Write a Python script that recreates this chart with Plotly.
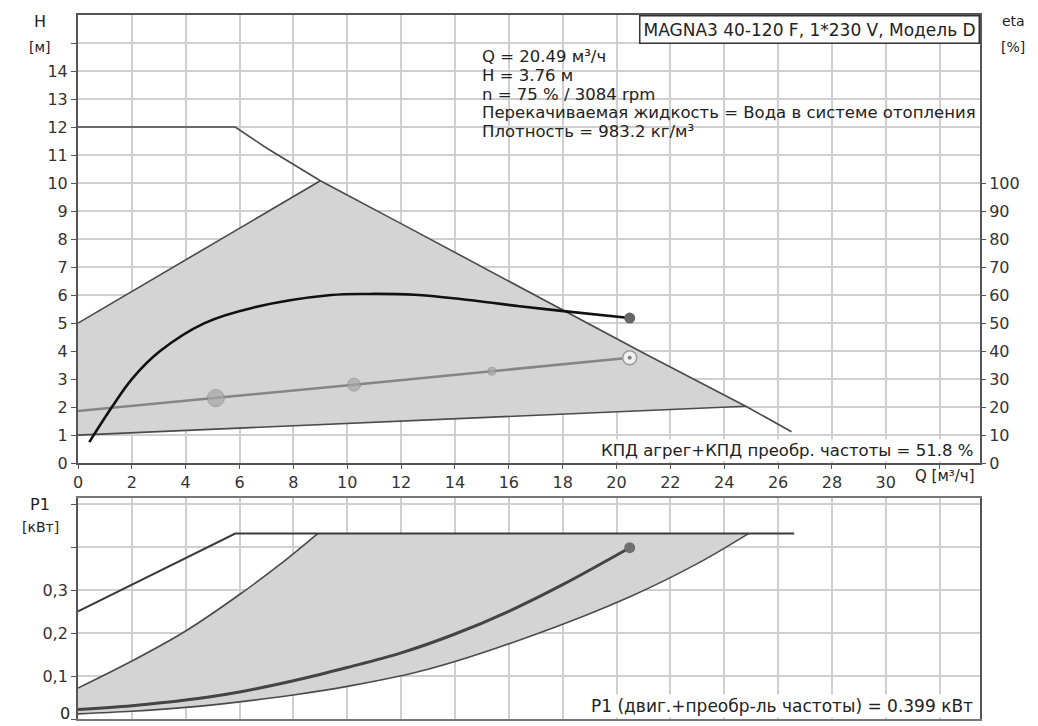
import plotly.graph_objects as go

# ---------------- data ----------------
# Top chart: H [m] vs Q [m3/h]
max_q = [0, 5.84, 7.0, 9.0, 12, 15, 18, 21, 24.8, 26.5]
max_h = [12.0, 12.0, 11.25, 10.08, 8.55, 7.0, 5.47, 3.93, 2.03, 1.12]

upper_edge_q = [0, 9.0]
upper_edge_h = [5.0, 10.08]
lower_edge_q = [0, 24.8]
lower_edge_h = [1.0, 2.03]

op_q = [0, 5.12, 10.25, 15.37, 20.49]
op_h = [1.86, 2.32, 2.80, 3.28, 3.76]
op_marker_sizes = [17, 13, 8]

eta_q = [0.42, 1.26, 2.0, 3.05, 4.7, 6.5, 9.4, 10.8, 12.5, 14.2, 16.4, 18.3, 20.49]
eta_v = [7.5, 20.0, 30.0, 40.0, 50.0, 55.5, 60.0, 60.4, 60.1, 58.6, 56.0, 54.0, 51.8]

# Bottom chart: P1 [kW] vs Q
pmax_q = [0, 5.84, 26.6]
pmax_v = [0.251, 0.432, 0.432]

pup_q = [0, 2, 4, 6, 7.5, 8.9]
pup_v = [0.072, 0.135, 0.205, 0.290, 0.360, 0.432]
plow_q = [0, 2, 4, 6, 8, 10, 13, 16.8, 20.5, 23, 24.9]
plow_v = [0.012, 0.018, 0.027, 0.040, 0.056, 0.076, 0.116, 0.193, 0.285, 0.362, 0.432]

p1_q = [0, 2, 4, 6, 8, 10, 12, 14, 16, 18, 20.49]
p1_v = [0.022, 0.031, 0.044, 0.063, 0.089, 0.120, 0.154, 0.198, 0.251, 0.313, 0.399]

x_ticks = list(range(0, 34, 2))
x_ticktext = [str(v) for v in range(0, 32, 2)] + [""]
h_ticks = list(range(0, 16))
h_ticktext = [str(v) for v in range(0, 15)] + [""]
eta_ticks = list(range(0, 110, 10))
p_ticks = [0, 0.1, 0.2, 0.3, 0.4, 0.5]
p_ticktext = ["", "0,1", "0,2", "0,3", "", ""]
p_zero_label = "0"

info_lines = [
    "Q = 20.49 м³/ч",
    "H = 3.76 м",
    "n = 75 % / 3084 rpm",
    "Перекачиваемая жидкость = Вода в системе отопления",
    "Плотность = 983.2 кг/м³",
]
title_box = "MAGNA3 40-120 F, 1*230 V, Модель D"
eta_text = "КПД агрег+КПД преобр. частоты = 51.8 %"
p1_text = "P1 (двиг.+преобр-ль частоты) = 0.399 кВт"

# ---------------- figure ----------------
# page body has an 8px margin, so the figure is offset by 8px on screen
OFF = 8
W, H = 1038, 726
SCR_L, SCR_R, SCR_T, SCR_B = 78, 980, 13, 720   # plot area on screen
ML, MT = SCR_L - OFF, SCR_T - OFF
MR = W - (SCR_R - OFF)
MB = H - (SCR_B - OFF)
PW, PH = SCR_R - SCR_L, SCR_B - SCR_T


def px(x):
    return (x - SCR_L) / PW


def py(y):
    return (SCR_B - y) / PH


FONT = "DejaVu Sans"
FILL = "#d4d4d4"
EDGE = "#4a4a4a"

fig = go.Figure()

# top region polygon
inner = [(q, h) for q, h in zip(max_q, max_h) if upper_edge_q[-1] < q < lower_edge_q[-1]]
reg_q = list(upper_edge_q) + [q for q, _ in inner] + [lower_edge_q[-1], lower_edge_q[0]]
reg_h = list(upper_edge_h) + [h for _, h in inner] + [lower_edge_h[-1], lower_edge_h[0]]
fig.add_trace(go.Scatter(x=reg_q, y=reg_h, fill="toself", fillcolor=FILL, mode="lines",
                         line=dict(width=0), hoverinfo="skip", xaxis="x", yaxis="y"))
fig.add_trace(go.Scatter(x=upper_edge_q, y=upper_edge_h, mode="lines",
                         line=dict(color=EDGE, width=1.6), xaxis="x", yaxis="y"))
fig.add_trace(go.Scatter(x=lower_edge_q, y=lower_edge_h, mode="lines",
                         line=dict(color=EDGE, width=1.6), xaxis="x", yaxis="y"))
fig.add_trace(go.Scatter(x=max_q, y=max_h, mode="lines",
                         line=dict(color=EDGE, width=1.6), xaxis="x", yaxis="y"))

# operating curve with markers
fig.add_trace(go.Scatter(x=op_q, y=op_h, mode="lines",
                         line=dict(color="#858585", width=2.6), xaxis="x", yaxis="y"))
fig.add_trace(go.Scatter(x=op_q[1:4], y=op_h[1:4], mode="markers",
                         marker=dict(size=op_marker_sizes, color="#a6a6a6",
                                     line=dict(color="#8c8c8c", width=1)),
                         xaxis="x", yaxis="y"))
fig.add_trace(go.Scatter(x=op_q[-1:], y=op_h[-1:], mode="markers",
                         marker=dict(size=14, color="#f0f0f0", line=dict(color="#9a9a9a", width=1.5)),
                         xaxis="x", yaxis="y"))
fig.add_trace(go.Scatter(x=op_q[-1:], y=op_h[-1:], mode="markers",
                         marker=dict(size=4, color="#808080"), xaxis="x", yaxis="y"))

# efficiency curve (right axis)
fig.add_trace(go.Scatter(x=eta_q, y=eta_v, mode="lines",
                         line=dict(color="#111111", width=2.6, shape="spline", smoothing=1.0),
                         xaxis="x", yaxis="y2"))
fig.add_trace(go.Scatter(x=eta_q[-1:], y=eta_v[-1:], mode="markers",
                         marker=dict(size=11, color="#666666"), xaxis="x", yaxis="y2"))

# bottom region polygon
preg_q = list(pup_q) + list(reversed(plow_q))
preg_v = list(pup_v) + list(reversed(plow_v))
fig.add_trace(go.Scatter(x=preg_q, y=preg_v, fill="toself", fillcolor=FILL, mode="lines",
                         line=dict(width=0), hoverinfo="skip", xaxis="x2", yaxis="y3"))
fig.add_trace(go.Scatter(x=pup_q, y=pup_v, mode="lines", line=dict(color=EDGE, width=1.6, shape="spline"),
                         xaxis="x2", yaxis="y3"))
fig.add_trace(go.Scatter(x=plow_q, y=plow_v, mode="lines", line=dict(color=EDGE, width=1.6, shape="spline"),
                         xaxis="x2", yaxis="y3"))
fig.add_trace(go.Scatter(x=pmax_q, y=pmax_v, mode="lines", line=dict(color="#3a3a3a", width=2),
                         xaxis="x2", yaxis="y3"))
fig.add_trace(go.Scatter(x=p1_q, y=p1_v, mode="lines", line=dict(color="#444444", width=3, shape="spline"),
                         xaxis="x2", yaxis="y3"))
fig.add_trace(go.Scatter(x=p1_q[-1:], y=p1_v[-1:], mode="markers",
                         marker=dict(size=11, color="#707070"), xaxis="x2", yaxis="y3"))

grid = dict(showgrid=True, gridcolor="#cfcfcf", gridwidth=1.5, zeroline=False)
tickfont = dict(family=FONT, size=16, color="#333333")

fig.update_layout(
    width=W, height=H, showlegend=False,
    paper_bgcolor="white", plot_bgcolor="white",
    margin=dict(l=ML, r=MR, t=MT, b=MB),
    font=dict(family=FONT, size=15, color="#222222"),
    xaxis=dict(domain=[0, 1], anchor="y", range=[0, 33.5], tickvals=x_ticks, ticktext=x_ticktext,
               ticks="outside", ticklen=4, tickcolor="#555", tickfont=tickfont,
               showline=True, linecolor="#555555", linewidth=2, mirror=True, **grid),
    yaxis=dict(domain=[py(463), 1], anchor="x", range=[0, 16], tickvals=h_ticks, ticktext=h_ticktext,
               ticks="outside", ticklen=5, tickcolor="#555", tickfont=tickfont,
               showline=True, linecolor="#555555", linewidth=2, mirror=True, **grid),
    yaxis2=dict(overlaying="y", anchor="x", side="right", range=[0, 160], tickvals=eta_ticks,
                ticks="outside", ticklen=5, tickcolor="#555", tickfont=tickfont, showgrid=False,
                zeroline=False, showline=False),
    xaxis2=dict(domain=[0, 1], anchor="y3", range=[0, 33.5], tickvals=x_ticks, showticklabels=False,
                ticks="", showline=True, linecolor="#777777", linewidth=1.5, mirror=True, **grid),
    yaxis3=dict(domain=[0, py(498)], anchor="x2", range=[0, 0.515], tickvals=p_ticks, ticktext=p_ticktext,
                ticks="outside", ticklen=5, tickcolor="#555", tickfont=tickfont,
                showline=True, linecolor="#555555", linewidth=1.8, mirror=True, **grid),
)

ann = []


def add_text(text, x, y, size=15, xanchor="center", yanchor="middle", **kw):
    ann.append(dict(text=text, x=px(x), y=py(y), xref="paper", yref="paper", showarrow=False,
                    xanchor=xanchor, yanchor=yanchor,
                    font=dict(family=FONT, size=size, color="#222222"), **kw))


add_text("H", 40, 20, 16)
add_text("[м]", 40, 45, 14)
add_text("eta", 1013, 19, 14)
add_text("[%]", 1013, 45, 14)
add_text("P1", 40, 505, 16)
add_text("[кВт]", 40, 527, 14)
add_text("Q [м³/ч]", 913, 476, 15, xanchor="left")
add_text(p_zero_label, 71, 725, 16, xanchor="right", yanchor="bottom", borderpad=0)
for i, line in enumerate(info_lines):
    add_text(line, 480, 55 + i * 18.8, 16.5, xanchor="left")
add_text(eta_text, 975, 450, 16.5, xanchor="right", bgcolor="white", borderpad=1)
add_text(p1_text, 975, 707, 17, xanchor="right", bgcolor="white", borderpad=1)
ann.append(dict(text=title_box, x=1, y=1, xref="paper", yref="paper", showarrow=False,
                xanchor="right", yanchor="top", bgcolor="white", bordercolor="#333333", borderwidth=1.5,
                borderpad=3, font=dict(family=FONT, size=17, color="#222222")))
fig.update_layout(annotations=ann)

fig.write_html("out.html")
